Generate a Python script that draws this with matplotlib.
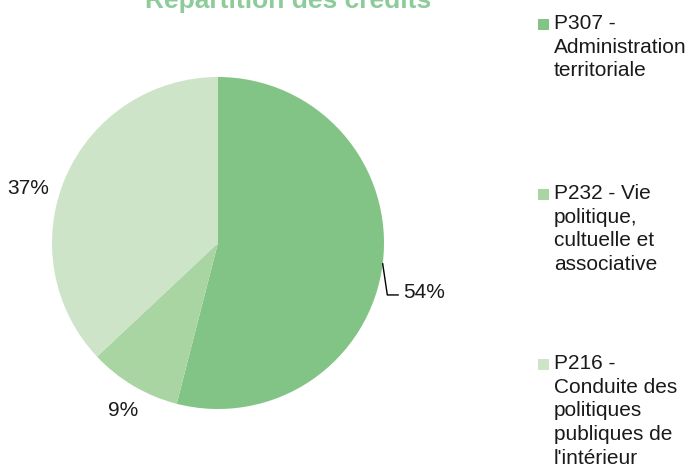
import matplotlib
matplotlib.use("Agg")
import matplotlib.pyplot as plt
import numpy as np
from matplotlib.patches import Rectangle

plt.rcParams['font.family'] = ['Liberation Sans', 'DejaVu Sans']

title = "Répartition des crédits"
categories = ["P307 -\nAdministration\nterritoriale",
              "P232 - Vie\npolitique,\ncultuelle et\nassociative",
              "P216 -\nConduite des\npolitiques\npubliques de\nl'intérieur"]
values = [54, 9, 37]
pct_labels = ["54%", "9%", "37%"]
colors = ["#82C386", "#A9D5A3", "#CEE4C9"]

W, H = 690, 470
fig = plt.figure(figsize=(W / 100, H / 100), dpi=100)

# pie axes (pixel layout)
cx, cy, r = 218, 243, 166
ax = fig.add_axes([(cx - r) / W, (H - cy - r) / H, 2 * r / W, 2 * r / H])
wedges, _ = ax.pie(values, colors=colors, startangle=90, counterclock=False,
                   radius=1, wedgeprops=dict(linewidth=0))
ax.set_xlim(-1, 1)
ax.set_ylim(-1, 1)
ax.set_aspect('equal')
ax.axis('off')

FS = 15
# percentage labels
label_dist = [None, 1.16, 1.19]
for i, w in enumerate(wedges):
    mid = np.deg2rad((w.theta1 + w.theta2) / 2)
    if i == 0:
        x0, y0 = np.cos(mid), np.sin(mid)
        pts = [(x0, y0), (1.02, -0.313), (1.085, -0.313)]
        ax.plot([p[0] for p in pts], [p[1] for p in pts], color='black',
                lw=1.0, clip_on=False)
        ax.text(1.115, -0.30, pct_labels[i], ha='left', va='center',
                fontsize=FS, color='#1a1a1a', clip_on=False)
    else:
        ang = mid + (np.deg2rad(1.2) if i == 1 else np.deg2rad(7.5))
        d = label_dist[i]
        ax.text(d * np.cos(ang), d * np.sin(ang), pct_labels[i],
                ha='center', va='center', fontsize=FS, color='#1a1a1a',
                clip_on=False)

# title (partly cut off at top, as in reference)
fig.text(288 / W, 1 - 8 / H, title, ha='center', va='baseline',
         fontsize=19, fontweight='bold', color='#8DCB9A')

# legend
legend_tops = [16, 186, 356]
for lab, col, top in zip(categories, colors, legend_tops):
    fig.patches.append(Rectangle((538 / W, 1 - (top + 14) / H), 11 / W, 11 / H,
                                 transform=fig.transFigure, facecolor=col,
                                 edgecolor='none'))
    fig.text(554 / W, 1 - (top - 2) / H, lab, ha='left', va='top',
             fontsize=FS, color='#1a1a1a', linespacing=1.31)

fig.savefig("out.png", dpi=100)
